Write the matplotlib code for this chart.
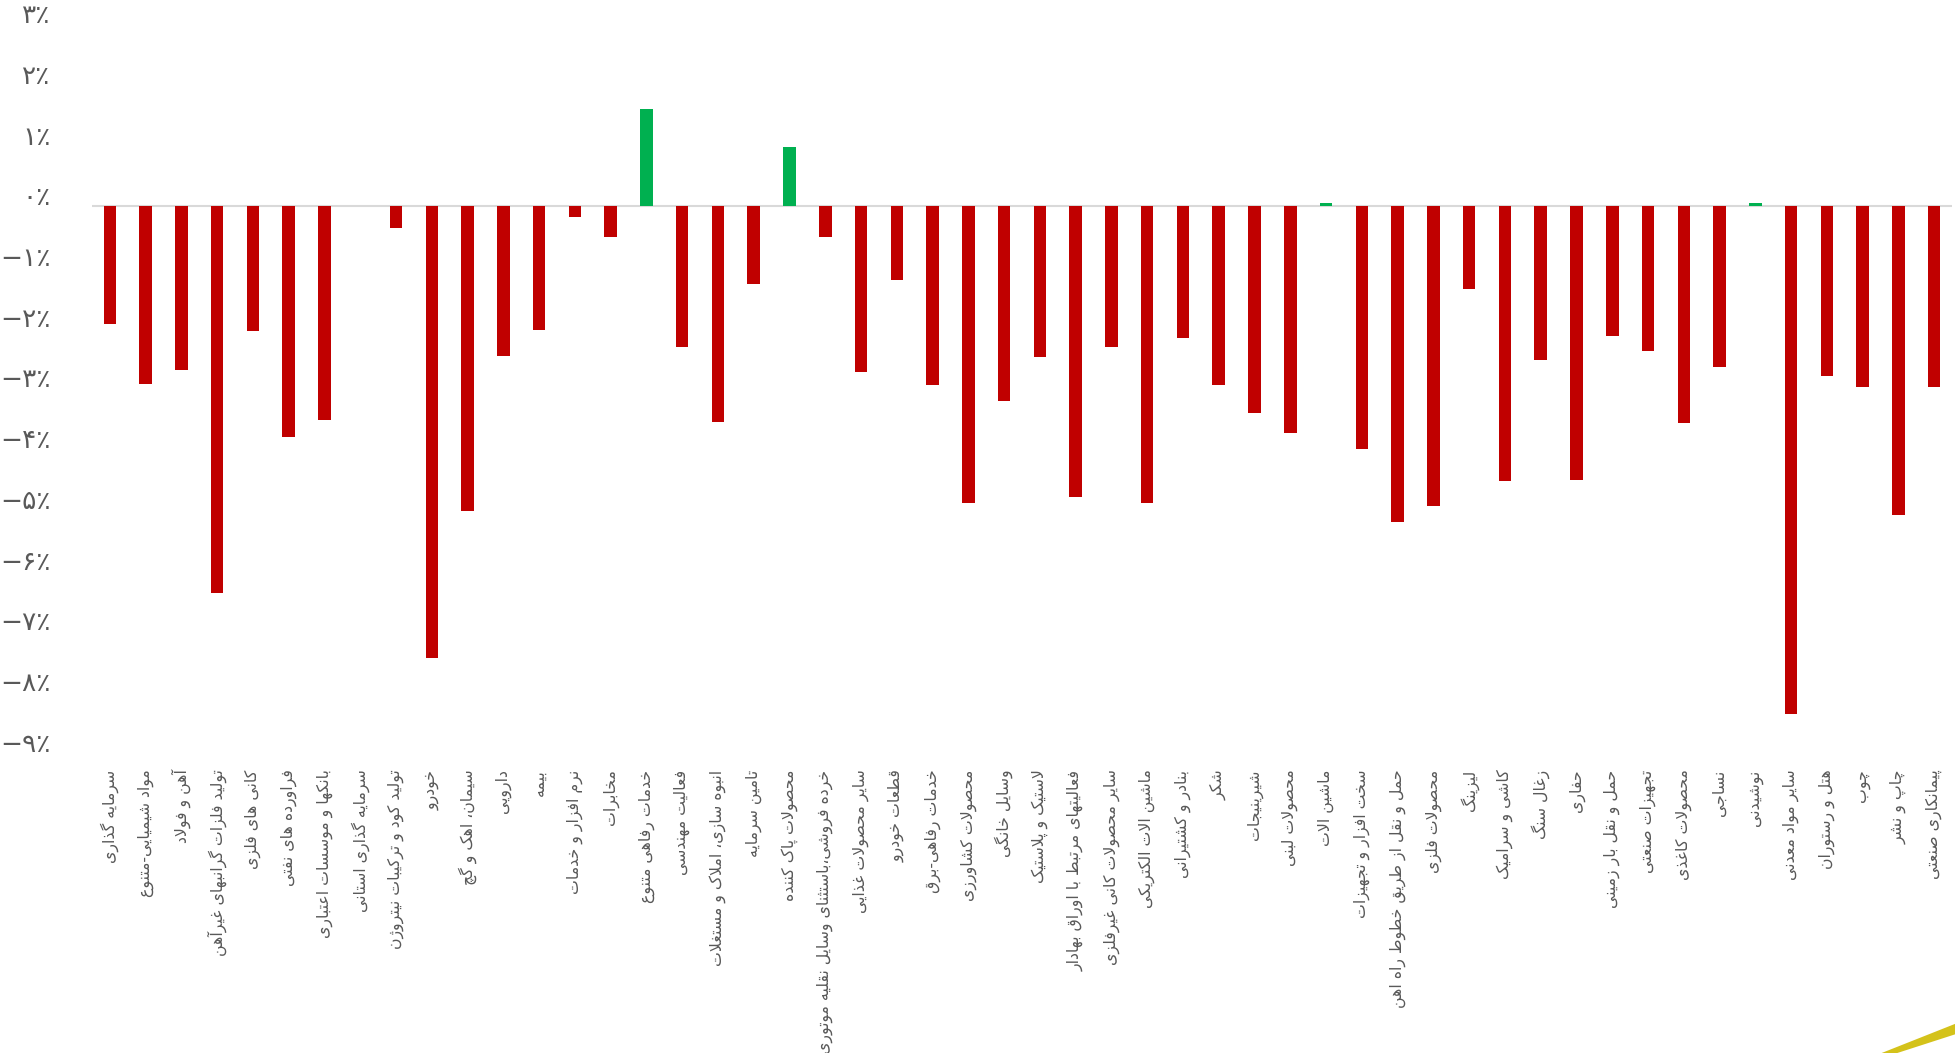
import matplotlib
matplotlib.use("Agg")
import matplotlib.pyplot as plt
from matplotlib.ticker import FuncFormatter, MultipleLocator
from matplotlib.transforms import ScaledTranslation
from matplotlib.patches import Polygon

plt.rcParams['font.family'] = ['DejaVu Sans']

categories = [
    "سرمایه گذاری", "مواد شیمیایی-متنوع", "آهن و فولاد", "تولید فلزات گرانبهای غیرآهن",
    "کانی های فلزی", "فراورده های نفتی", "بانکها و موسسات اعتباری", "سرمایه گذاری استانی",
    "تولید کود و ترکیبات نیتروژن", "خودرو", "سیمان، اهک و گچ", "دارویی", "بیمه",
    "نرم افزار و خدمات", "مخابرات", "خدمات رفاهی متنوع", "فعالیت مهندسی",
    "انبوه سازی، املاک و مستغلات", "تامین سرمایه", "محصولات پاک کننده",
    "خرده فروشی،باستثنای وسایل نقلیه موتوری", "سایر محصولات غذایی", "قطعات خودرو",
    "خدمات رفاهی-برق", "محصولات کشاورزی", "وسایل خانگی", "لاستیک و پلاستیک",
    "فعالیتهای مرتبط با اوراق بهادار", "سایر محصولات کانی غیرفلزی", "ماشین الات الکتریکی",
    "بنادر و کشتیرانی", "شکر", "شیرینیجات", "محصولات لبنی", "ماشین الات",
    "سخت افزار و تجهیزات", "حمل و نقل از طریق خطوط راه اهن", "محصولات فلزی", "لیزینگ",
    "کاشی و سرامیک", "زغال سنگ", "حفاری", "حمل و نقل بار زمینی", "تجهیزات صنعتی",
    "محصولات کاغذی", "نساجی", "نوشیدنی", "سایر مواد معدنی", "هتل و رستوران", "چوب",
    "چاپ و نشر", "پیمانکاری صنعتی",
]

values = [
    -1.93, -2.92, -2.69, -6.37, -2.05, -3.80, -3.51, 0.0, -0.35, -7.43,
    -5.01, -2.46, -2.03, -0.18, -0.51, 1.60, -2.32, -3.55, -1.27, 0.97,
    -0.51, -2.73, -1.21, -2.94, -4.89, -3.20, -2.48, -4.78, -2.32, -4.89,
    -2.16, -2.94, -3.41, -3.74, 0.05, -4.00, -5.20, -4.93, -1.36, -4.52,
    -2.53, -4.50, -2.14, -2.38, -3.57, -2.65, 0.05, -8.36, -2.79, -2.98,
    -5.09, -2.98,
]

# --- minimal arabic shaping (matplotlib draws glyphs without joining) ---
FORMS = {
    'ء': (0xFE80,), 'آ': (0xFE81, 0xFE82), 'أ': (0xFE83, 0xFE84), 'ؤ': (0xFE85, 0xFE86),
    'إ': (0xFE87, 0xFE88), 'ئ': (0xFE89, 0xFE8A, 0xFE8B, 0xFE8C), 'ا': (0xFE8D, 0xFE8E),
    'ب': (0xFE8F, 0xFE90, 0xFE91, 0xFE92), 'ة': (0xFE93, 0xFE94),
    'ت': (0xFE95, 0xFE96, 0xFE97, 0xFE98), 'ث': (0xFE99, 0xFE9A, 0xFE9B, 0xFE9C),
    'ج': (0xFE9D, 0xFE9E, 0xFE9F, 0xFEA0), 'ح': (0xFEA1, 0xFEA2, 0xFEA3, 0xFEA4),
    'خ': (0xFEA5, 0xFEA6, 0xFEA7, 0xFEA8), 'د': (0xFEA9, 0xFEAA), 'ذ': (0xFEAB, 0xFEAC),
    'ر': (0xFEAD, 0xFEAE), 'ز': (0xFEAF, 0xFEB0), 'س': (0xFEB1, 0xFEB2, 0xFEB3, 0xFEB4),
    'ش': (0xFEB5, 0xFEB6, 0xFEB7, 0xFEB8), 'ص': (0xFEB9, 0xFEBA, 0xFEBB, 0xFEBC),
    'ض': (0xFEBD, 0xFEBE, 0xFEBF, 0xFEC0), 'ط': (0xFEC1, 0xFEC2, 0xFEC3, 0xFEC4),
    'ظ': (0xFEC5, 0xFEC6, 0xFEC7, 0xFEC8), 'ع': (0xFEC9, 0xFECA, 0xFECB, 0xFECC),
    'غ': (0xFECD, 0xFECE, 0xFECF, 0xFED0), 'ف': (0xFED1, 0xFED2, 0xFED3, 0xFED4),
    'ق': (0xFED5, 0xFED6, 0xFED7, 0xFED8), 'ك': (0xFED9, 0xFEDA, 0xFEDB, 0xFEDC),
    'ل': (0xFEDD, 0xFEDE, 0xFEDF, 0xFEE0), 'م': (0xFEE1, 0xFEE2, 0xFEE3, 0xFEE4),
    'ن': (0xFEE5, 0xFEE6, 0xFEE7, 0xFEE8), 'ه': (0xFEE9, 0xFEEA, 0xFEEB, 0xFEEC),
    'و': (0xFEED, 0xFEEE), 'ى': (0xFEEF, 0xFEF0), 'ي': (0xFEF1, 0xFEF2, 0xFEF3, 0xFEF4),
    'پ': (0xFB56, 0xFB57, 0xFB58, 0xFB59), 'چ': (0xFB7A, 0xFB7B, 0xFB7C, 0xFB7D),
    'ژ': (0xFB8A, 0xFB8B), 'ک': (0xFB8E, 0xFB8F, 0xFB90, 0xFB91),
    'گ': (0xFB92, 0xFB93, 0xFB94, 0xFB95), 'ی': (0xFBFC, 0xFBFD, 0xFBFE, 0xFBFF),
}
LAM_ALEF = {'آ': (0xFEF5, 0xFEF6), 'أ': (0xFEF7, 0xFEF8), 'إ': (0xFEF9, 0xFEFA), 'ا': (0xFEFB, 0xFEFC)}


def shape(text):
    out = []
    i = 0
    n = len(text)
    while i < n:
        c = text[i]
        if c not in FORMS:
            if c != '\u200c':
                out.append(c)
            i += 1
            continue
        prev = text[i - 1] if i > 0 else ''
        prev_join = prev in FORMS and len(FORMS[prev]) == 4
        if c == 'ل' and i + 1 < n and text[i + 1] in LAM_ALEF:
            f = LAM_ALEF[text[i + 1]]
            out.append(chr(f[1] if prev_join else f[0]))
            i += 2
            continue
        nxt = text[i + 1] if i + 1 < n else ''
        forms = FORMS[c]
        next_join = len(forms) == 4 and nxt in FORMS and len(FORMS[nxt]) > 1
        if len(forms) == 1:
            code = forms[0]
        elif prev_join and next_join:
            code = forms[3]
        elif prev_join:
            code = forms[1]
        elif next_join:
            code = forms[2]
        else:
            code = forms[0]
        out.append(chr(code))
        i += 1
    return ''.join(reversed(out))


FA_DIGITS = str.maketrans('0123456789', '۰۱۲۳۴۵۶۷۸۹')


def pct_fmt(v, pos):
    s = str(int(round(abs(v)))).translate(FA_DIGITS) + '٪'
    return ('\u2212' + s) if v < 0 else s


fig = plt.figure(figsize=(19.56, 10.53), dpi=100)
ax = fig.add_axes([0.047, 0.285, 0.951, 0.692])

x = list(range(len(categories)))
colors = ['#00B050' if v > 0 else '#C00000' for v in values]
ax.bar(x, values, width=0.35, color=colors, zorder=3)
ax.axhline(0, color='#D9D9D9', linewidth=1.5, zorder=2)

ax.set_xlim(-0.5, len(categories) - 0.5)
ax.set_ylim(-9, 3)
ax.yaxis.set_major_locator(MultipleLocator(1))
ax.yaxis.set_major_formatter(FuncFormatter(pct_fmt))

ax.set_xticks(x)
ax.set_xticklabels([shape(c) for c in categories], rotation=90, fontsize=11.3,
                   color='#595959', va='top', ha='center')
ax.tick_params(axis='x', length=0, pad=12)
ax.tick_params(axis='y', length=0, pad=30, labelsize=19, labelcolor='#595959')
shift = ScaledTranslation(0, 8 / 72, fig.dpi_scale_trans)
for lab in ax.get_yticklabels():
    lab.set_transform(lab.get_transform() + shift)

for s in ax.spines.values():
    s.set_visible(False)

# yellow swoosh in the bottom-right corner
fig.patches.append(Polygon([[0.962, 0.0], [1.0, 0.028], [1.0, 0.018], [0.97, 0.0]],
                           closed=True, transform=fig.transFigure,
                           facecolor='#D4C21A', edgecolor='none'))

fig.savefig('out.png', dpi=100, facecolor='white')
